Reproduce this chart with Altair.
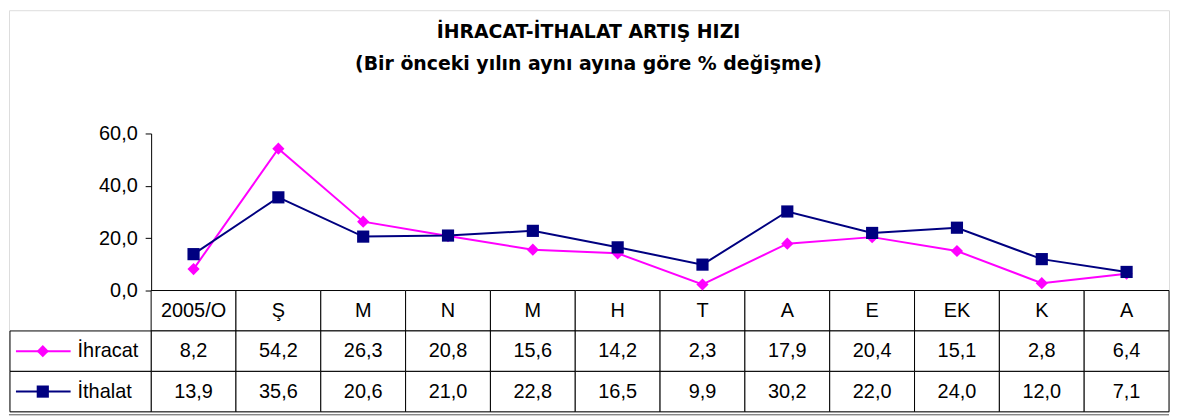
import altair as alt
import pandas as pd

# ---------------- data ----------------
categories = ["2005/O", "Ş", "M", "N", "M", "H", "T", "A", "E", "EK", "K", "A"]
ihracat = [8.2, 54.2, 26.3, 20.8, 15.6, 14.2, 2.3, 17.9, 20.4, 15.1, 2.8, 6.4]
ithalat = [13.9, 35.6, 20.6, 21.0, 22.8, 16.5, 9.9, 30.2, 22.0, 24.0, 12.0, 7.1]
series_names = ["İhracat", "İthalat"]
series_colors = ["#FF00FF", "#000080"]
series_shapes = ["diamond", "square"]
title_text = "İHRACAT-İTHALAT ARTIŞ HIZI"
subtitle_text = "(Bir önceki yılın aynı ayına göre % değişme)"
y_ticks = [0, 20, 40, 60]
header_row = "başlık"

FONT = "Liberation Sans"
TITLE_FONT = "DejaVu Sans"


def fmt(v):
    return f"{v:.1f}".replace(".", ",")


rows = []
for name, vals in zip(series_names, [ihracat, ithalat]):
    for i, (c, v) in enumerate(zip(categories, vals)):
        rows.append({"idx": i, "cat": c, "series": name, "row": name,
                     "value": v, "label": fmt(v)})
long_df = pd.DataFrame(rows)

header_df = pd.DataFrame({"idx": list(range(len(categories))),
                          "cat": categories,
                          "row": [header_row] * len(categories)})

cells_df = pd.concat([header_df[["idx", "row"]], long_df[["idx", "row"]]],
                     ignore_index=True)

legend_df = pd.DataFrame({"series": series_names, "row": series_names})
one_df = pd.DataFrame({"a": [0]})

# ---------------- scales ----------------
n = len(categories)
x_scale = alt.Scale(type="band", domain=list(range(n)), range=[143, 1167],
                    paddingInner=0, paddingOuter=0)
X_band = alt.X("idx:O", scale=x_scale, axis=None)
X_mid = alt.X("idx:O", scale=x_scale, axis=None, bandPosition=0.5)


def row_scale():
    return alt.Scale(type="band", domain=[header_row] + series_names,
                     range=[282, 404], paddingInner=0, paddingOuter=0)


def Y_row(center=False):
    if center:
        return alt.Y("row:N", scale=row_scale(), axis=None, bandPosition=0.5)
    return alt.Y("row:N", scale=row_scale(), axis=None)


def val_scale():
    return alt.Scale(domain=[0, 60], range=[282, 124], nice=False, zero=False)


color = alt.Color("series:N",
                  scale=alt.Scale(domain=series_names, range=series_colors),
                  legend=None)
shape = alt.Shape("series:N",
                  scale=alt.Scale(domain=series_names, range=series_shapes),
                  legend=None)

y_axis = alt.Axis(values=y_ticks,
                  labelExpr="replace(format(datum.value, '.1f'), '.', ',')",
                  tickSize=6, tickWidth=1, domainWidth=1,
                  labelFontSize=20, labelFont=FONT, labelColor="black",
                  domainColor="black", tickColor="black", grid=False,
                  offset=-143, labelPadding=8, title=None)

# ---------------- layers ----------------
cells = alt.Chart(cells_df).mark_rect(fill="white", stroke="black",
                                      strokeWidth=1).encode(x=X_band, y=Y_row())

header_text = alt.Chart(header_df).mark_text(
    font=FONT, fontSize=20, color="black", baseline="middle"
).encode(x=X_mid, y=Y_row(True), text="cat:N")

value_text = alt.Chart(long_df).mark_text(
    font=FONT, fontSize=20, color="black", baseline="middle"
).encode(x=X_mid, y=Y_row(True), text="label:N")

legend_cells = alt.Chart(legend_df).mark_rect(
    fill="white", stroke="black", strokeWidth=1
).encode(x=alt.value(1), x2=alt.value(143), y=Y_row())

legend_rule = alt.Chart(legend_df).mark_rule(strokeWidth=2).encode(
    x=alt.value(7), x2=alt.value(62), y=Y_row(True), color=color)

legend_pt = alt.Chart(legend_df).mark_point(
    filled=True, opacity=1, size=150
).encode(x=alt.value(34), y=Y_row(True), color=color, shape=shape)

legend_txt = alt.Chart(legend_df).mark_text(
    font=FONT, fontSize=20, color="black", align="left", baseline="middle"
).encode(x=alt.value(69), y=Y_row(True), text="series:N")

lines = alt.Chart(long_df).mark_line(strokeWidth=2).encode(
    x=X_mid,
    y=alt.Y("value:Q", scale=val_scale(), axis=y_axis),
    color=color,
    order="idx:O",
)

points = alt.Chart(long_df).mark_point(filled=True, opacity=1, size=150).encode(
    x=X_mid,
    y=alt.Y("value:Q", scale=val_scale(), axis=None),
    color=color,
    shape=shape,
)

title1 = alt.Chart(pd.DataFrame({"t": [title_text]})).mark_text(
    font=TITLE_FONT, fontSize=19, fontWeight="bold",
    align="center", baseline="alphabetic", color="black"
).encode(x=alt.value(583), y=alt.value(27.5), text="t:N")

title2 = alt.Chart(pd.DataFrame({"t": [subtitle_text]})).mark_text(
    font=TITLE_FONT, fontSize=19, fontWeight="bold",
    align="center", baseline="alphabetic", color="black"
).encode(x=alt.value(583), y=alt.value(60), text="t:N")

shadow = alt.Chart(one_df).mark_rule(color="#555555", strokeWidth=1).encode(
    x=alt.value(0), x2=alt.value(1167), y=alt.value(407))

chart = alt.layer(
    cells, header_text, value_text,
    legend_cells, legend_rule, legend_pt, legend_txt,
    lines, points, title1, title2, shadow,
).resolve_scale(y="independent").properties(
    width=1167, height=404,
    autosize=alt.AutoSizeParams(type="none"),
    padding={"left": 1, "top": 1, "right": 1, "bottom": 4},
    background="white",
).configure_view(stroke="black", strokeWidth=2).configure(font=FONT)

chart.save("out.html", embed_options={"renderer": "svg", "actions": False})
